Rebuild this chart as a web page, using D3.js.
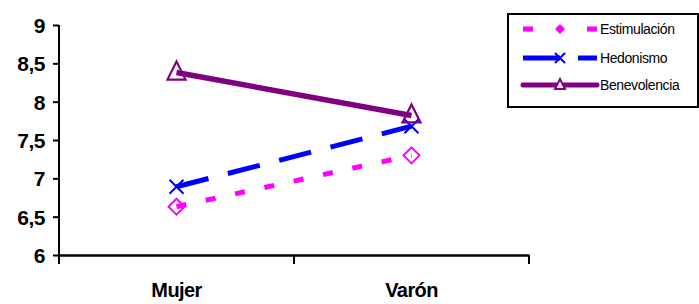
<!DOCTYPE html>
<html>
<head>
<meta charset="utf-8">
<script src="https://cdn.jsdelivr.net/npm/d3@7"></script>
<style>
body { margin: 0; background: #fff; }
svg { display: block; font-family: "Liberation Sans", Arial, sans-serif; }
</style>
</head>
<body>
<svg width="699" height="304"></svg>
<script>
var categories = ["Mujer", "Varón"];
var seriesNames = ["Estimulación", "Hedonismo", "Benevolencia"];
var estimulacion = [6.63, 7.30];
var hedonismo = [6.89, 7.68];
var benevolencia = [8.38, 7.82];
var yTicks = [6, 6.5, 7, 7.5, 8, 8.5, 9];

var svg = d3.select("svg");

var x = d3.scaleBand().domain(categories).range([59, 529]);
var y = d3.scaleLinear().domain([6, 9]).range([255, 25]);

var series = [
  {name: seriesNames[0], values: estimulacion, color: "#ff00ff", dash: "10,20", width: 5, marker: "diamond"},
  {name: seriesNames[1], values: hedonismo, color: "#0000ff", dash: "33,20", width: 5, marker: "x"},
  {name: seriesNames[2], values: benevolencia, color: "#800080", dash: null, width: 5.5, marker: "triangle"}
];

// eje y
var yAxis = d3.axisLeft(y)
  .tickValues(yTicks)
  .tickSize(6)
  .tickFormat(d => String(d).replace(".", ","));
var yg = svg.append("g").attr("transform", "translate(59,0)").call(yAxis);
yg.select(".domain").remove();
yg.selectAll("line").attr("stroke", "#000").attr("stroke-width", 2);
yg.selectAll("text")
  .attr("font-size", 21).attr("font-weight", "bold")
  .attr("font-family", "Liberation Sans, Arial, sans-serif")
  .attr("letter-spacing", -0.5)
  .attr("x", -14).attr("dy", "0.36em");
svg.append("line").attr("x1", 59).attr("x2", 59).attr("y1", y(9)).attr("y2", 264)
  .attr("stroke", "#000").attr("stroke-width", 2);

// eje x
var xAxis = d3.axisBottom(x).tickSize(0).tickPadding(28);
var xg = svg.append("g").attr("transform", "translate(0,255)").call(xAxis);
xg.select(".domain").attr("stroke", "#000").attr("stroke-width", 2.5);
xg.selectAll("text")
  .attr("font-size", 20).attr("font-weight", "bold")
  .attr("font-family", "Liberation Sans, Arial, sans-serif")
  .attr("letter-spacing", -0.6)
  .attr("dy", "0.71em");
var bounds = categories.map(c => x(c) + x.bandwidth());
svg.selectAll(".xtick").data(bounds).enter().append("line")
  .attr("class", "xtick")
  .attr("x1", d => d).attr("x2", d => d)
  .attr("y1", 255).attr("y2", 264)
  .attr("stroke", "#000").attr("stroke-width", 2);

var cx = c => x(c) + x.bandwidth() / 2;

function drawMarker(g, type, color) {
  if (type == "diamond") {
    g.append("path").attr("d", "M0,-8L8,0L0,8L-8,0Z")
      .attr("fill", "#fff").attr("stroke", color).attr("stroke-width", 2);
  } else if (type == "x") {
    g.append("path").attr("d", "M-7,-7L7,7M-7,7L7,-7")
      .attr("fill", "none").attr("stroke", color).attr("stroke-width", 2);
  } else {
    g.append("path").attr("d", "M0,-11L9,7L-9,7Z")
      .attr("fill", "none").attr("stroke", color).attr("stroke-width", 2.2);
  }
}

var line = d3.line().x((d, i) => cx(categories[i])).y(d => y(d));

series.forEach(function(s) {
  var mg = svg.append("g");
  s.values.forEach(function(v, i) {
    var g = mg.append("g").attr("transform", "translate(" + cx(categories[i]) + "," + y(v) + ")");
    drawMarker(g, s.marker, s.color);
  });
  svg.append("path").datum(s.values)
    .attr("d", line)
    .attr("fill", "none")
    .attr("stroke", s.color)
    .attr("stroke-width", s.width)
    .attr("stroke-dasharray", s.dash);
});

// leyenda
var legend = svg.append("g");
legend.append("rect").attr("x", 508).attr("y", 14).attr("width", 190).attr("height", 93)
  .attr("fill", "#fff").attr("stroke", "#000").attr("stroke-width", 2);
var rowY = [29, 58, 85];
series.forEach(function(s, i) {
  var row = legend.append("g");
  if (s.marker == "diamond") {
    row.selectAll("rect.d").data([523, 587]).enter().append("rect")
      .attr("x", d => d).attr("y", rowY[i] - 2.5).attr("width", 10).attr("height", 5)
      .attr("fill", s.color);
    row.append("path").attr("transform", "translate(560," + rowY[i] + ")")
      .attr("d", "M0,-5L5,0L0,5L-5,0Z").attr("fill", s.color);
  } else if (s.marker == "x") {
    row.append("line").attr("x1", 523).attr("x2", 560).attr("y1", rowY[i]).attr("y2", rowY[i])
      .attr("stroke", s.color).attr("stroke-width", 5);
    row.append("line").attr("x1", 578).attr("x2", 597).attr("y1", rowY[i]).attr("y2", rowY[i])
      .attr("stroke", s.color).attr("stroke-width", 5);
    row.append("path").attr("transform", "translate(560," + rowY[i] + ")")
      .attr("d", "M-5,-5L5,5M-5,5L5,-5").attr("stroke", s.color).attr("stroke-width", 2);
  } else {
    row.append("line").attr("x1", 523).attr("x2", 597).attr("y1", rowY[i]).attr("y2", rowY[i])
      .attr("stroke", s.color).attr("stroke-width", 5).attr("stroke-linecap", "round");
    row.append("path").attr("transform", "translate(560," + rowY[i] + ")")
      .attr("d", "M0,-6L5,4L-5,4Z").attr("fill", "#fff").attr("stroke", s.color).attr("stroke-width", 2);
  }
  row.append("text").attr("x", 600).attr("y", rowY[i]).attr("dy", "0.35em")
    .attr("font-size", 14).attr("letter-spacing", -0.4).text(s.name);
});
</script>
</body>
</html>
